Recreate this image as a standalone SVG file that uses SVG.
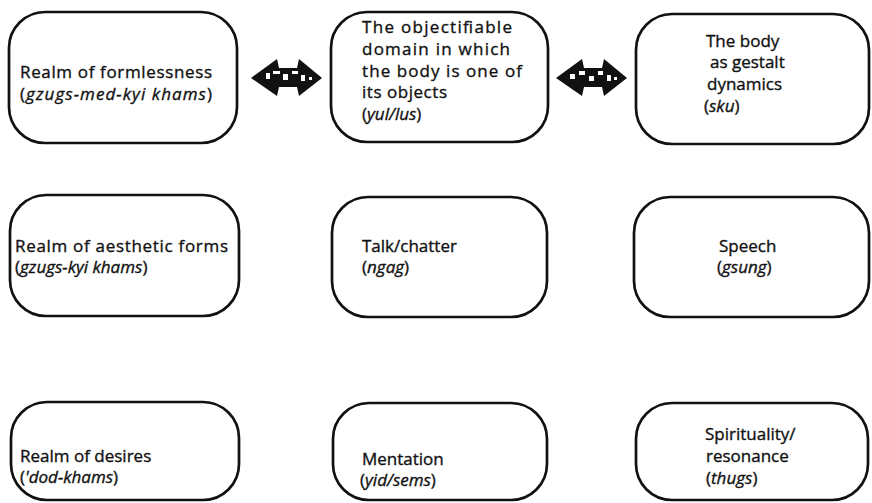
<svg xmlns="http://www.w3.org/2000/svg" width="872" height="503" viewBox="0 0 872 503">
<style>
  .box { fill: #fff; stroke: #111; stroke-width: 2.7; }
  .t { font-family: "Open Sans", "Liberation Sans", sans-serif; font-size: 17px; fill: #111; stroke: #111; stroke-width: 0.35; }
  .i { font-style: italic; }
  .arrow { fill: #111; }
  .speck { fill: #fff; }
</style>
<rect width="872" height="503" fill="#fff"/>

<g id="connectors">
  <g id="arrow1">
    <polygon class="arrow" points="251,78 277,59 279,68 297,68 299,59 322,78 299,96 297,87 279,87 277,96"/>
    <rect class="speck" x="266" y="73" width="4" height="6"/>
    <rect class="speck" x="273" y="71" width="7" height="3"/>
    <rect class="speck" x="283" y="74" width="5" height="6"/>
    <rect class="speck" x="292" y="71" width="6" height="3"/>
    <rect class="speck" x="301" y="75" width="4" height="6"/>
    <rect class="speck" x="309" y="77" width="3" height="3"/>
  </g>
  <g id="arrow2">
    <polygon class="arrow" points="556,78 582,59 584,68 602,68 604,59 627,78 604,96 602,87 584,87 582,96"/>
    <rect class="speck" x="570" y="74" width="5" height="5"/>
    <rect class="speck" x="579" y="71" width="6" height="4"/>
    <rect class="speck" x="589" y="76" width="5" height="5"/>
    <rect class="speck" x="598" y="71" width="5" height="4"/>
    <rect class="speck" x="607" y="75" width="4" height="6"/>
    <rect class="speck" x="614" y="77" width="3" height="3"/>
  </g>
</g>

<g id="n1">
  <rect class="box" x="9" y="12" width="228" height="131" rx="36" ry="36"/>
  <text class="t" x="20" y="78" textLength="192" lengthAdjust="spacing">Realm of formlessness</text>
  <text class="t" x="20" y="100" textLength="192" lengthAdjust="spacing">(<tspan class="i">gzugs-med-kyi  khams</tspan>)</text>
</g>

<g id="n2">
  <rect class="box" x="331" y="12" width="217" height="130" rx="36" ry="36"/>
  <text class="t" x="362" y="33" textLength="150" lengthAdjust="spacing">The objectifiable</text>
  <text class="t" x="362" y="55" textLength="148" lengthAdjust="spacing">domain in which</text>
  <text class="t" x="362" y="77" textLength="160" lengthAdjust="spacing">the body is one of</text>
  <text class="t" x="362" y="98" textLength="85" lengthAdjust="spacing">its objects</text>
  <text class="t" x="362" y="120">(<tspan class="i">yul/lus</tspan>)</text>
</g>

<g id="n3">
  <rect class="box" x="636" y="14" width="233" height="130" rx="36" ry="36"/>
  <text class="t" x="706" y="47">The body</text>
  <text class="t" x="710" y="68">as gestalt</text>
  <text class="t" x="707" y="90">dynamics</text>
  <text class="t" x="704" y="112">(<tspan class="i">sku</tspan>)</text>
</g>

<g id="n4">
  <rect class="box" x="10" y="195" width="229" height="121" rx="36" ry="36"/>
  <text class="t" x="15" y="252" textLength="213" lengthAdjust="spacing">Realm of aesthetic forms</text>
  <text class="t" x="15" y="273">(<tspan class="i">gzugs-kyi khams</tspan>)</text>
</g>

<g id="n5">
  <rect class="box" x="332" y="197" width="215" height="120" rx="36" ry="36"/>
  <text class="t" x="362" y="252">Talk/chatter</text>
  <text class="t" x="362" y="273">(<tspan class="i">ngag</tspan>)</text>
</g>

<g id="n6">
  <rect class="box" x="634" y="197" width="235" height="120" rx="36" ry="36"/>
  <text class="t" x="719" y="252">Speech</text>
  <text class="t" x="717" y="273">(<tspan class="i">gsung</tspan>)</text>
</g>

<g id="n7">
  <rect class="box" x="11" y="402" width="228" height="98" rx="36" ry="36"/>
  <text class="t" x="20" y="462">Realm of desires</text>
  <text class="t" x="20" y="483">(<tspan class="i">'dod-khams</tspan>)</text>
</g>

<g id="n8">
  <rect class="box" x="333" y="403" width="214" height="97" rx="36" ry="36"/>
  <text class="t" x="362" y="465">Mentation</text>
  <text class="t" x="360" y="486">(<tspan class="i">yid/sems</tspan>)</text>
</g>

<g id="n9">
  <rect class="box" x="636" y="403" width="232" height="97" rx="36" ry="36"/>
  <text class="t" x="705" y="440">Spirituality/</text>
  <text class="t" x="706" y="462">resonance</text>
  <text class="t" x="706" y="484">(<tspan class="i">thugs</tspan>)</text>
</g>
</svg>
